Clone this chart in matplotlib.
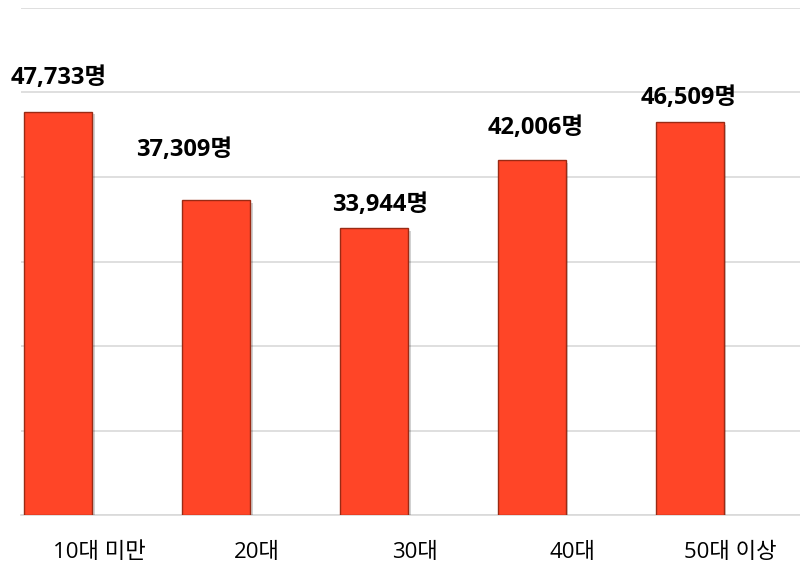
import matplotlib
matplotlib.use("Agg")
import matplotlib.pyplot as plt
import matplotlib.patheffects as pe

plt.rcParams['font.family'] = ['Open Sans', 'Noto Sans CJK KR', 'DejaVu Sans']

categories = ["10대 미만", "20대", "30대", "40대", "50대 이상"]
values = [47733, 37309, 33944, 42006, 46509]
value_labels = ["47,733명", "37,309명", "33,944명", "42,006명", "46,509명"]
# label offsets (pixels) relative to bar top center
label_dx = [1, -32, 6, 4, -1]
label_dy = [34, 50, 23, 32, 24]

W, H = 800, 563
fig = plt.figure(figsize=(W/100, H/100), dpi=100)
ax = fig.add_axes([21/W, (H-515)/H, 1 - 21/W, (515-8)/H])

spacing = 157.9
x0 = 58
xl = (21 - x0)/spacing
xr = (800 - x0)/spacing
ax.set_xlim(xl, xr)
ax.set_ylim(0, 60000)

xs = list(range(len(categories)))
bars = ax.bar(xs, values, width=68/spacing, color='#FF4527', edgecolor='#9A2A14',
              linewidth=1.0, zorder=3)
for b in bars:
    b.set_path_effects([pe.SimplePatchShadow(offset=(2, -2), shadow_rgbFace='#000000', alpha=0.18),
                        pe.Normal()])

ax.set_yticks(range(0, 60001, 10000))
ax.yaxis.grid(True, color='#D9D9D9', linewidth=1.2, zorder=0)
ax.tick_params(axis='both', length=0, labelleft=False, labelbottom=False)
for s in ['left', 'right', 'top']:
    ax.spines[s].set_visible(False)
ax.spines['bottom'].set_color('#D9D9D9')
ax.spines['bottom'].set_linewidth(1.2)

for i, (v, lab) in enumerate(zip(values, value_labels)):
    ax.annotate(lab, (i, v), xytext=(label_dx[i], label_dy[i]), textcoords='offset pixels',
                ha='center', va='center', fontsize=17, fontweight='bold', color='#000000')

for i, c in enumerate(categories):
    ax.annotate(c, (i, 0), xytext=(41, -37), textcoords='offset pixels',
                ha='center', va='center', fontsize=16, color='#000000', annotation_clip=False)

fig.savefig("out.png", dpi=100)
